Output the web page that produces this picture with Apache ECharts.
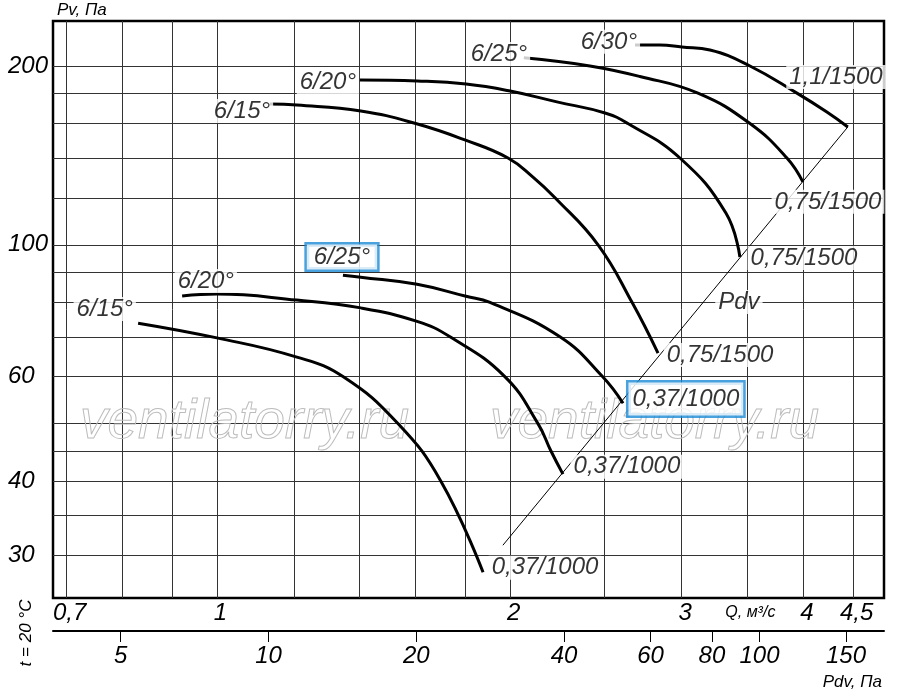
<!DOCTYPE html>
<html>
<head>
<meta charset="utf-8">
<script src="https://cdn.jsdelivr.net/npm/echarts@6.0.0/dist/echarts.min.js"></script>
<style>
  html, body { margin: 0; padding: 0; background: #fff; }
  #chart { width: 900px; height: 691px; }
</style>
</head>
<body>
<div id="chart"></div>
<script>
// grid lines and labels of the Q axis (m3/s)
var qTicks = [0.7, 0.8, 0.9, 1, 1.2, 1.4, 1.6, 1.8, 2, 2.5, 3, 3.5, 4, 4.5];
var qLabels = [0.7, 1, 2, 3, 3.5, 4, 4.5];
// grid lines and labels of the Pv axis (Pa)
var pTicks = [30, 35, 40, 45, 50, 60, 70, 80, 90, 100, 120, 140, 160, 180, 200];
var pLabels = [30, 40, 60, 100, 200];
// dynamic pressure scale under the chart
var pdvTicks = [5, 10, 20, 40, 60, 80, 100, 150];

// curves, [Q, Pv]
var low15 = [[0.83, 73.8], [1.0, 69.7], [1.208, 64.7], [1.347, 60], [1.534, 50], [1.698, 40],
             [1.876, 28.1]];
var low20 = [[0.921, 82.0], [1.0, 82.6], [1.208, 80.7], [1.405, 78.3], [1.605, 74.3], [1.735, 70],
             [1.975, 60], [2.136, 50], [2.202, 45], [2.266, 41.1]];
var low25 = [[1.347, 88.9], [1.405, 88.2], [1.605, 85.8], [1.802, 81.9], [1.907, 80], [2.25, 70],
             [2.488, 60], [2.612, 54.1]];
var up15 = [[1.133, 172.6], [1.208, 171.9], [1.405, 168.0], [1.60, 160], [1.80, 150], [1.99, 140],
            [2.111, 130], [2.224, 120], [2.462, 100], [2.668, 80], [2.837, 65.7]];
var up20 = [[1.402, 189.4], [1.605, 188.7], [1.802, 186.5], [2.0, 181.5], [2.234, 174.0], [2.503, 166.7],
            [2.642, 160], [2.988, 140], [3.331, 113.1], [3.443, 95.4]];
var up25 = [[2.066, 206.4], [2.415, 200], [2.718, 192.0], [3.118, 180], [3.526, 160], [3.848, 140],
            [3.996, 127.6]];
var up30 = [[2.687, 217.0], [2.85, 217.0], [3.002, 215.3], [3.208, 212.8], [3.526, 200], [3.94, 180],
            [4.229, 167.3], [4.444, 157.9]];
var pdvLine = [[1.966, 31.2], [4.444, 157.9]];

// curve labels: text and [Q, Pv] of the label centre
var labelText = ['6/15°', '6/20°', '6/25°', '6/15°', '6/20°', '6/25°', '6/30°',
                 '1,1/1500', '0,75/1500', '0,75/1500', 'Pdv', '0,75/1500',
                 '0,37/1000', '0,37/1000', '0,37/1000'];
var labelAt = [[0.767, 78.0], [0.974, 86.9], [1.344, 95.4], [1.061, 168.0], [1.300, 187.9], [1.948, 209.6],
               [2.526, 219.6], [4.321, 191.7], [4.240, 118.1], [4.006, 95.0], [3.435, 80.1], [3.285, 65.2],
               [3.030, 55.0], [2.636, 42.3], [2.172, 28.6]];
var boxedIdx = [2, 12];

var FONT = 'Liberation Sans';
var myChart = echarts.init(document.getElementById('chart'));

function comma(v) {
    return String(v).replace('.', ',');
}

function curve(data) {
    return {
        type: 'line',
        data: data,
        smooth: 0.45,
        showSymbol: false,
        silent: true,
        z: 3,
        lineStyle: { color: '#000', width: 3 }
    };
}

var labelData = [];
for (var i = 0; i < labelText.length; i++) {
    var item = { value: labelAt[i], name: labelText[i] };
    if (boxedIdx.indexOf(i) >= 0) {
        item.label = {
            borderColor: '#1b8ad6',
            borderWidth: 2.5,
            padding: i == 12 ? [5, 4, 4, 4] : [1, 7, 0, 7]
        };
    }
    labelData.push(item);
}

var wmStyle = { text: 'ventilatorry.ru', font: 'italic 55px "Liberation Sans"', fill: 'transparent',
                stroke: '#bcbcbc', lineWidth: 1, verticalAlign: 'middle' };

var option = {
    animation: false,
    grid: {
        left: 53, right: 16, top: 21, bottom: 93,
        show: true,
        borderColor: '#000',
        borderWidth: 2.5,
        outerBoundsMode: 'none'
    },
    xAxis: [
        {
            type: 'log',
            logBase: 10,
            min: 0.6787,
            max: 4.8406,
            position: 'bottom',
            axisLine: { show: false },
            axisTick: { show: false, customValues: qTicks },
            splitLine: { show: true, lineStyle: { color: '#333', width: 1 } },
            axisLabel: {
                customValues: qLabels,
                margin: 3,
                fontFamily: FONT,
                fontStyle: 'italic',
                fontSize: 24,
                color: '#000',
                padding: [0, 0, 0, 7],
                formatter: function (v) {
                    if (Math.abs(v - 3.5) < 0.01) return '{u|Q, м³/с}';
                    return comma(Math.round(v * 10) / 10);
                },
                rich: {
                    u: { fontFamily: FONT, fontStyle: 'italic', fontSize: 16, color: '#000', padding: [4, 0, 0, 0] }
                }
            }
        },
        {
            type: 'log',
            logBase: 10,
            min: 3.64,
            max: 179.3,
            position: 'bottom',
            offset: 33,
            axisLine: { show: true, lineStyle: { color: '#000', width: 2 } },
            axisTick: { show: true, customValues: pdvTicks, length: 11, lineStyle: { color: '#000', width: 1 } },
            splitLine: { show: false },
            axisLabel: {
                customValues: pdvTicks,
                margin: 13,
                fontFamily: FONT,
                fontStyle: 'italic',
                fontSize: 24,
                color: '#000'
            }
        }
    ],
    yAxis: {
        type: 'log',
        logBase: 10,
        min: 25.43,
        max: 238.1,
        axisLine: { show: false },
        axisTick: { show: false, customValues: pTicks },
        splitLine: { show: true, lineStyle: { color: '#333', width: 1 } },
        axisLabel: {
            customValues: pLabels,
            align: 'left',
            margin: 45,
            fontFamily: FONT,
            fontStyle: 'italic',
            fontSize: 24,
            color: '#000'
        }
    },
    graphic: [
        { type: 'text', x: 80, y: 423, z: 1, silent: true, style: wmStyle },
        { type: 'text', x: 490, y: 423, z: 1, silent: true, style: wmStyle },
        {
            type: 'text', x: 57, y: 10, silent: true,
            style: { text: 'Pv, Па', font: 'italic 17px "Liberation Sans"', fill: '#000', verticalAlign: 'middle' }
        },
        {
            type: 'text', x: 26, y: 633, rotation: Math.PI / 2, silent: true,
            style: { text: 't = 20 °C', font: 'italic 17px "Liberation Sans"', fill: '#000',
                     align: 'center', verticalAlign: 'middle' }
        },
        {
            type: 'text', x: 882, y: 682, silent: true,
            style: { text: 'Pdv, Па', font: 'italic 17px "Liberation Sans"', fill: '#000',
                     align: 'right', verticalAlign: 'middle' }
        }
    ],
    series: [
        curve(low15),
        curve(low20),
        curve(low25),
        curve(up15),
        curve(up20),
        curve(up25),
        curve(up30),
        {
            type: 'line',
            data: pdvLine,
            showSymbol: false,
            silent: true,
            z: 2,
            lineStyle: { color: '#000', width: 1 }
        },
        {
            type: 'scatter',
            data: labelData,
            symbolSize: 0,
            silent: true,
            z: 5,
            label: {
                show: true,
                position: 'inside',
                formatter: '{b}',
                fontFamily: FONT,
                fontStyle: 'italic',
                fontSize: 24,
                color: '#000',
                backgroundColor: '#fff',
                padding: [0, 3]
            }
        }
    ]
};

myChart.setOption(option);
</script>
</body>
</html>
